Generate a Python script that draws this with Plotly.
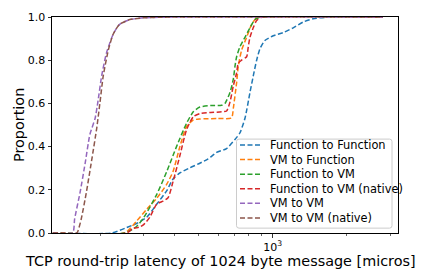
import math
import plotly.graph_objects as go

# ---------------- data ----------------
series_names = [
    "Function to Function",
    "VM to Function",
    "Function to VM",
    "Function to VM (native)",
    "VM to VM",
    "VM to VM (native)",
]
series_colors = ["#1f77b4", "#ff7f0e", "#2ca02c", "#d62728", "#9467bd", "#8c564b"]

ff_x = [128, 222, 255, 280, 308, 338, 371, 394, 420, 461, 506, 547, 592, 650, 703, 736,
        772, 809, 834, 861, 888, 930, 1006, 1104, 1213, 1332, 1462, 1658, 2800]
ff_y = [0.0, 0.0, 0.025, 0.044, 0.073, 0.133, 0.195, 0.25, 0.278, 0.302, 0.323, 0.343,
        0.373, 0.391, 0.433, 0.463, 0.531, 0.651, 0.726, 0.80, 0.853, 0.891, 0.913, 0.928,
        0.95, 0.977, 0.992, 0.999, 1.0]

vf_x = [128, 250, 280, 308, 338, 371, 394, 420, 447, 476, 506, 600, 681, 692, 714, 725,
        748, 784, 822, 861, 900, 2800]
vf_y = [0.0, 0.0, 0.055, 0.11, 0.16, 0.225, 0.285, 0.40, 0.493, 0.523, 0.528, 0.530,
        0.533, 0.576, 0.696, 0.771, 0.846, 0.906, 0.966, 0.996, 1.0, 1.0]

fv_x = [128, 250, 280, 300, 338, 371, 407, 447, 476, 506, 560, 620, 640, 671, 692, 703,
        714, 736, 772, 809, 847, 888, 2800]
fv_y = [0.0, 0.0, 0.03, 0.073, 0.178, 0.283, 0.40, 0.508, 0.561, 0.583, 0.590, 0.591,
        0.60, 0.651, 0.711, 0.771, 0.816, 0.861, 0.906, 0.95, 0.988, 0.999, 1.0]

fvn_x = [128, 255, 270, 289, 300, 317, 338, 359, 376, 394, 420, 447, 476, 506, 560, 620,
         650, 671, 692, 714, 725, 748, 784, 796, 809, 834, 861, 902, 2800]
fvn_y = [0.0, 0.0, 0.02, 0.028, 0.04, 0.073, 0.133, 0.148, 0.163, 0.238, 0.358, 0.478,
         0.538, 0.553, 0.558, 0.561, 0.565, 0.606, 0.681, 0.741, 0.786, 0.80, 0.816, 0.861,
         0.906, 0.95, 0.984, 0.999, 1.0]

vv_x = [128, 154, 157, 165, 173, 181, 190, 195, 202, 211, 225, 239, 263, 298, 348, 2800]
vv_y = [0.0, 0.0, 0.066, 0.186, 0.32, 0.456, 0.53, 0.606, 0.726, 0.83, 0.92, 0.966, 0.988,
        0.996, 0.999, 1.0]

vvn_x = [128, 160, 162, 167, 175, 184, 193, 199, 205, 215, 225, 239, 263, 298, 348, 2800]
vvn_y = [0.0, 0.0, 0.01, 0.066, 0.186, 0.336, 0.486, 0.606, 0.726, 0.846, 0.92, 0.966,
         0.988, 0.996, 0.999, 1.0]

series_x = [ff_x, vf_x, fv_x, fvn_x, vv_x, vvn_x]
series_y = [ff_y, vf_y, fv_y, fvn_y, vv_y, vvn_y]

y_ticks = [0.0, 0.2, 0.4, 0.6, 0.8, 1.0]
x_major_ticks = [1000]
x_major_labels = ["10<sup>3</sup>"]
x_minor_ticks = [200, 300, 400, 500, 600, 700, 800, 900, 2000, 3000]
x_limits = [127, 3230]

x_title = "TCP round-trip latency of 1024 byte message [micros]"
y_title = "Proportion"

# ---------------- layout geometry ----------------
W, H = 422, 269
ML, MR, MT, MB = 52, 24, 11, 36
PW, PH = W - ML - MR, H - MT - MB
FONT = "DejaVu Sans"
DASH = "5px,2.5px"
TICK_SIZE = 11
LEG_SIZE = 11.4
TITLE_SIZE = 14.4


def xp(px):
    return (px - ML) / PW


def yp(py):
    return (H - MB - py) / PH


fig = go.Figure()
for name, xs, ys, col in zip(series_names, series_x, series_y, series_colors):
    fig.add_trace(go.Scatter(
        x=xs, y=ys, mode="lines", name=name, showlegend=False, hoverinfo="skip",
        line=dict(color=col, width=1.5, dash=DASH, shape="spline", smoothing=0.6),
    ))

# ---------------- matplotlib-style legend ----------------
bx0, bx1, by0, by1, r = 236.5, 392, 136.5, 228, 2.5
path = (
    f"M {xp(bx0 + r)},{yp(by0)} L {xp(bx1 - r)},{yp(by0)} "
    f"Q {xp(bx1)},{yp(by0)} {xp(bx1)},{yp(by0 + r)} "
    f"L {xp(bx1)},{yp(by1 - r)} Q {xp(bx1)},{yp(by1)} {xp(bx1 - r)},{yp(by1)} "
    f"L {xp(bx0 + r)},{yp(by1)} Q {xp(bx0)},{yp(by1)} {xp(bx0)},{yp(by1 - r)} "
    f"L {xp(bx0)},{yp(by0 + r)} Q {xp(bx0)},{yp(by0)} {xp(bx0 + r)},{yp(by0)} Z"
)
shapes = [dict(type="path", path=path, xref="paper", yref="paper", layer="above",
               fillcolor="rgba(255,255,255,0.8)", line=dict(color="#cccccc", width=1))]
annotations = []
row0, row_step = 142.5, 15.0
for i, (name, col) in enumerate(zip(series_names, series_colors)):
    cy = row0 + i * row_step
    shapes.append(dict(type="line", xref="paper", yref="paper", layer="above",
                       x0=xp(240), x1=xp(260), y0=yp(cy), y1=yp(cy),
                       line=dict(color=col, width=1.5, dash=DASH)))
    annotations.append(dict(text=name, xref="paper", yref="paper", x=xp(267.5), y=yp(cy),
                            xanchor="left", yanchor="middle", showarrow=False,
                            font=dict(family=FONT, size=LEG_SIZE, color="black")))

# axis labels
annotations.append(dict(text=x_title, xref="paper", yref="paper", x=xp(220.5), y=yp(262),
                        xanchor="center", yanchor="middle", showarrow=False, borderpad=0,
                        font=dict(family=FONT, size=TITLE_SIZE, color="black")))
annotations.append(dict(text=y_title, xref="paper", yref="paper", x=xp(19), y=yp(122),
                        xanchor="center", yanchor="middle", showarrow=False, borderpad=0,
                        textangle=-90,
                        font=dict(family=FONT, size=TITLE_SIZE, color="black")))

fig.update_layout(
    width=W, height=H,
    margin=dict(l=ML, r=MR, t=MT, b=MB, pad=0),
    paper_bgcolor="white", plot_bgcolor="white",
    font=dict(family=FONT, size=TICK_SIZE, color="black"),
    showlegend=False,
    shapes=shapes,
    annotations=annotations,
    xaxis=dict(
        type="log", range=[math.log10(x_limits[0]), math.log10(x_limits[1])],
        tickmode="array", tickvals=x_major_ticks, ticktext=x_major_labels,
        ticks="outside", ticklen=3.5, tickwidth=0.8, tickcolor="black",
        minor=dict(tickmode="array", tickvals=x_minor_ticks, ticks="outside", ticklen=2,
                   tickwidth=0.6, tickcolor="black", showgrid=False),
        showline=True, linecolor="black", linewidth=1, mirror=True,
        showgrid=False, zeroline=False,
        tickfont=dict(family=FONT, size=TICK_SIZE, color="black"),
    ),
    yaxis=dict(
        range=[0, 1], tickmode="array", tickvals=y_ticks,
        ticktext=[f"{v:.1f}" for v in y_ticks],
        ticks="outside", ticklen=3.5, tickwidth=0.8, tickcolor="black",
        showline=True, linecolor="black", linewidth=1, mirror=True,
        showgrid=False, zeroline=False,
        tickfont=dict(family=FONT, size=TICK_SIZE, color="black"),
    ),
)

post = (
    "document.documentElement.style.margin='0';"
    "document.body.style.margin='0';document.body.style.padding='0';"
    "document.body.style.overflow='hidden';"
    "var gd=document.getElementById('{plot_id}');"
    "gd.style.position='fixed';gd.style.left='0px';gd.style.top='0px';"
)
fig.write_html("out.html", post_script=post,
               config={"displayModeBar": False, "staticPlot": True})
